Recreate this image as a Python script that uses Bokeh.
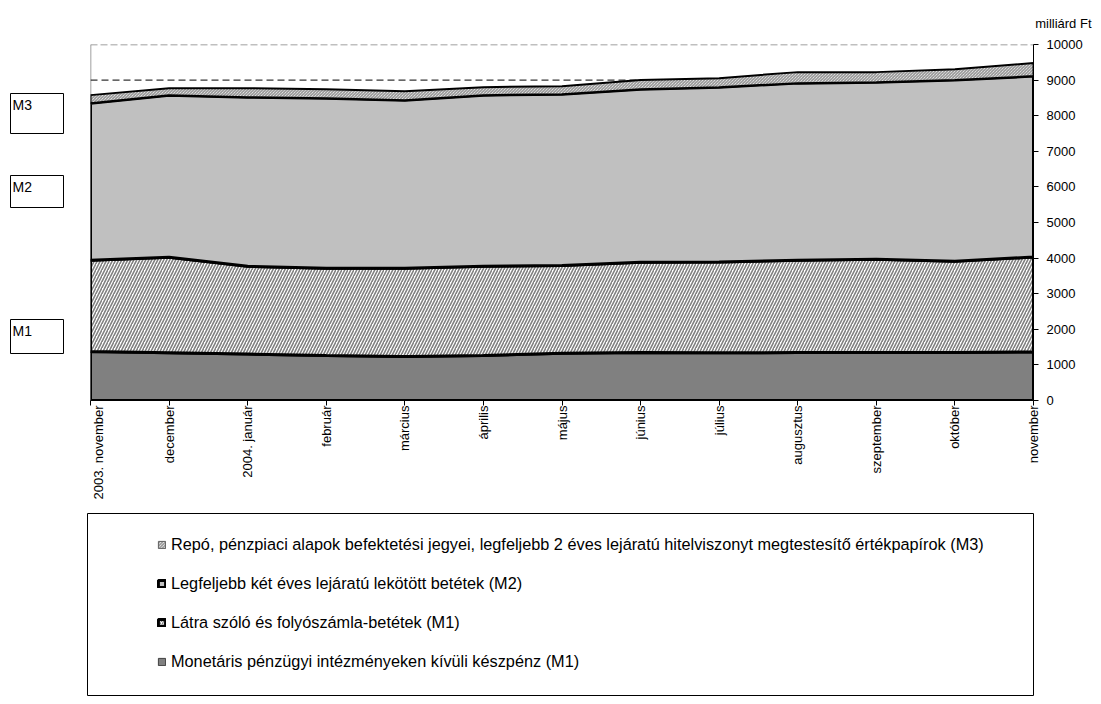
import numpy as np
from bokeh.plotting import figure
from bokeh.models import Range1d, FixedTicker, Span, Title, Legend, LegendItem
from bokeh.layouts import row, column
from bokeh.core.properties import value
from bokeh.embed import file_html
from bokeh.resources import INLINE

# ---- data (milliárd Ft) ----
months = ["2003. november", "december", "2004. január", "február", "március",
          "április", "május", "június", "július", "augusztus", "szeptember",
          "október", "november"]
cash = [1378, 1340, 1303, 1265, 1237, 1265, 1330, 1345, 1340, 1345, 1345, 1350, 1365]
sight = [2559, 2681, 2465, 2447, 2475, 2503, 2460, 2536, 2550, 2592, 2620, 2559, 2666]
time_dep = [4415, 4556, 4753, 4781, 4725, 4809, 4815, 4865, 4912, 4978, 4978, 5091, 5081]
repo = [226, 197, 253, 253, 253, 225, 225, 254, 253, 309, 281, 308, 365]
y_ticks = list(range(0, 10001, 1000))
box_labels = ["M3", "M2", "M1"]
legend_labels = [
    "Repó, pénzpiaci alapok befektetési jegyei, legfeljebb 2 éves lejáratú hitelviszonyt megtestesítő értékpapírok (M3)",
    "Legfeljebb két éves lejáratú lekötött betétek (M2)",
    "Látra szóló és folyószámla-betétek (M1)",
    "Monetáris pénzügyi intézményeken kívüli készpénz (M1)",
]
unit_label = "milliárd Ft"

FONT = "Liberation Sans"
TOP, BOTTOM = 44, 110
H = 510

x = np.arange(len(months))
layers = [np.array(cash), np.array(sight), np.array(time_dep), np.array(repo)]
tops = np.cumsum(layers, axis=0)
bottoms = np.vstack([np.zeros(len(months)), tops[:-1]])

styles = [
    dict(fill_color="#808080", line_color="black", line_width=3),
    dict(fill_color="white", hatch_pattern="/", hatch_color="#808080", hatch_scale=6,
         hatch_weight=1.6, line_color="black", line_width=3),
    dict(fill_color="#C0C0C0", line_color="black", line_width=3),
    dict(fill_color="white", hatch_pattern="\\", hatch_color="#808080", hatch_scale=3,
         hatch_weight=1.0, line_color="black", line_width=2),
]

# ---- main chart ----
p = figure(width=1003, height=H, x_range=Range1d(0, len(months) - 1),
           y_range=Range1d(0, 10000), y_axis_location="right",
           output_backend="svg", toolbar_location=None,
           min_border_left=0, min_border_right=60, min_border_top=TOP, min_border_bottom=BOTTOM)
p.outline_line_color = None
p.grid.visible = False
p.background_fill_color = "white"

p.add_layout(Span(location=10000, dimension="width", line_color="#808080",
                  line_dash="7 3", line_width=1.5, level="underlay"))
p.add_layout(Span(location=0, dimension="height", line_color="#808080",
                  line_width=1.5, level="underlay"))
p.add_layout(Span(location=9000, dimension="width", line_color="black",
                  line_dash="7 4", line_width=1, level="underlay"))

for top, bot, st in zip(tops, bottoms, styles):
    xs = list(x) + list(x[::-1])
    ys = list(top) + list(bot[::-1])
    p.patch(xs, ys, **st)

p.xaxis.ticker = FixedTicker(ticks=list(x))
p.xaxis.major_label_overrides = {int(i): m for i, m in zip(x, months)}
p.xaxis.major_label_orientation = np.pi / 2
p.yaxis.ticker = FixedTicker(ticks=y_ticks)
for ax in (p.xaxis, p.yaxis):
    ax.axis_line_color = "black"
    ax.axis_line_width = 1
    ax.major_tick_line_color = "black"
    ax.major_tick_out = 5
    ax.major_tick_in = 0
    ax.minor_tick_line_color = None
    ax.major_label_text_font = FONT
    ax.major_label_text_font_size = "13px"
    ax.major_label_text_color = "black"
p.xaxis.major_label_standoff = 0
p.yaxis.major_label_standoff = 8

p.add_layout(Title(text=unit_label, align="right", offset=-58, standoff=27,
                   text_font=FONT, text_font_size="13px", text_font_style="normal",
                   text_color="black"), "above")

# ---- left boxes (M3 / M2 / M1), drawn in page-pixel coordinates ----
left = figure(width=90, height=H, x_range=Range1d(0, 90), y_range=Range1d(400, 44),
              x_axis_location=None, y_axis_location=None, output_backend="svg",
              toolbar_location=None, min_border_left=0, min_border_right=0,
              min_border_top=TOP, min_border_bottom=BOTTOM)
left.grid.visible = False
left.outline_line_color = None
box_top = [93, 175, 319]
box_bot = [133, 207, 353]
left.quad(left=[10] * 3, right=[63] * 3, top=box_top, bottom=box_bot,
          fill_color="white", line_color="black", line_width=1)
left.text(x=[12] * 3, y=[t + 3 for t in box_top], text=box_labels, text_font=value(FONT),
          text_font_size="14px", text_baseline="top", text_align="left", text_color="black")

# ---- legend panel ----
lf = figure(width=1093, height=190, x_range=Range1d(0, 1), y_range=Range1d(0, 1),
            x_axis_location=None, y_axis_location=None, output_backend="svg",
            toolbar_location=None, min_border_left=87, min_border_right=60,
            min_border_top=3, min_border_bottom=5)
lf.grid.visible = False
lf.outline_line_color = "black"
lf.outline_line_width = 1

leg_styles = [
    dict(fill_color="white", hatch_pattern="\\", hatch_color="#808080", hatch_scale=3,
         hatch_weight=1.0, line_color="#606060", line_width=1),
    dict(fill_color="#C0C0C0", line_color="black", line_width=3),
    dict(fill_color="white", hatch_pattern="/", hatch_color="#808080", hatch_scale=4,
         hatch_weight=1.2, line_color="black", line_width=3),
    dict(fill_color="#808080", line_color="#404040", line_width=1),
]
items = []
for lab, st in zip(legend_labels, leg_styles):
    # legend-swatch renderer, kept outside the visible range of the legend panel
    r = lf.patch([2, 3, 3], [2, 2, 3], **st)
    items.append(LegendItem(label=lab, renderers=[r]))

legend = Legend(items=items, location=(70, 24), orientation="vertical",
                glyph_width=9, glyph_height=9, label_standoff=5, spacing=19,
                padding=0, margin=0, border_line_color=None, background_fill_alpha=0,
                label_text_font=FONT, label_text_font_size="16.3px", label_height=20,
                label_text_color="black")
lf.add_layout(legend)

layout = column(row(left, p), lf)
open("out.html", "w").write(file_html(layout, INLINE))
